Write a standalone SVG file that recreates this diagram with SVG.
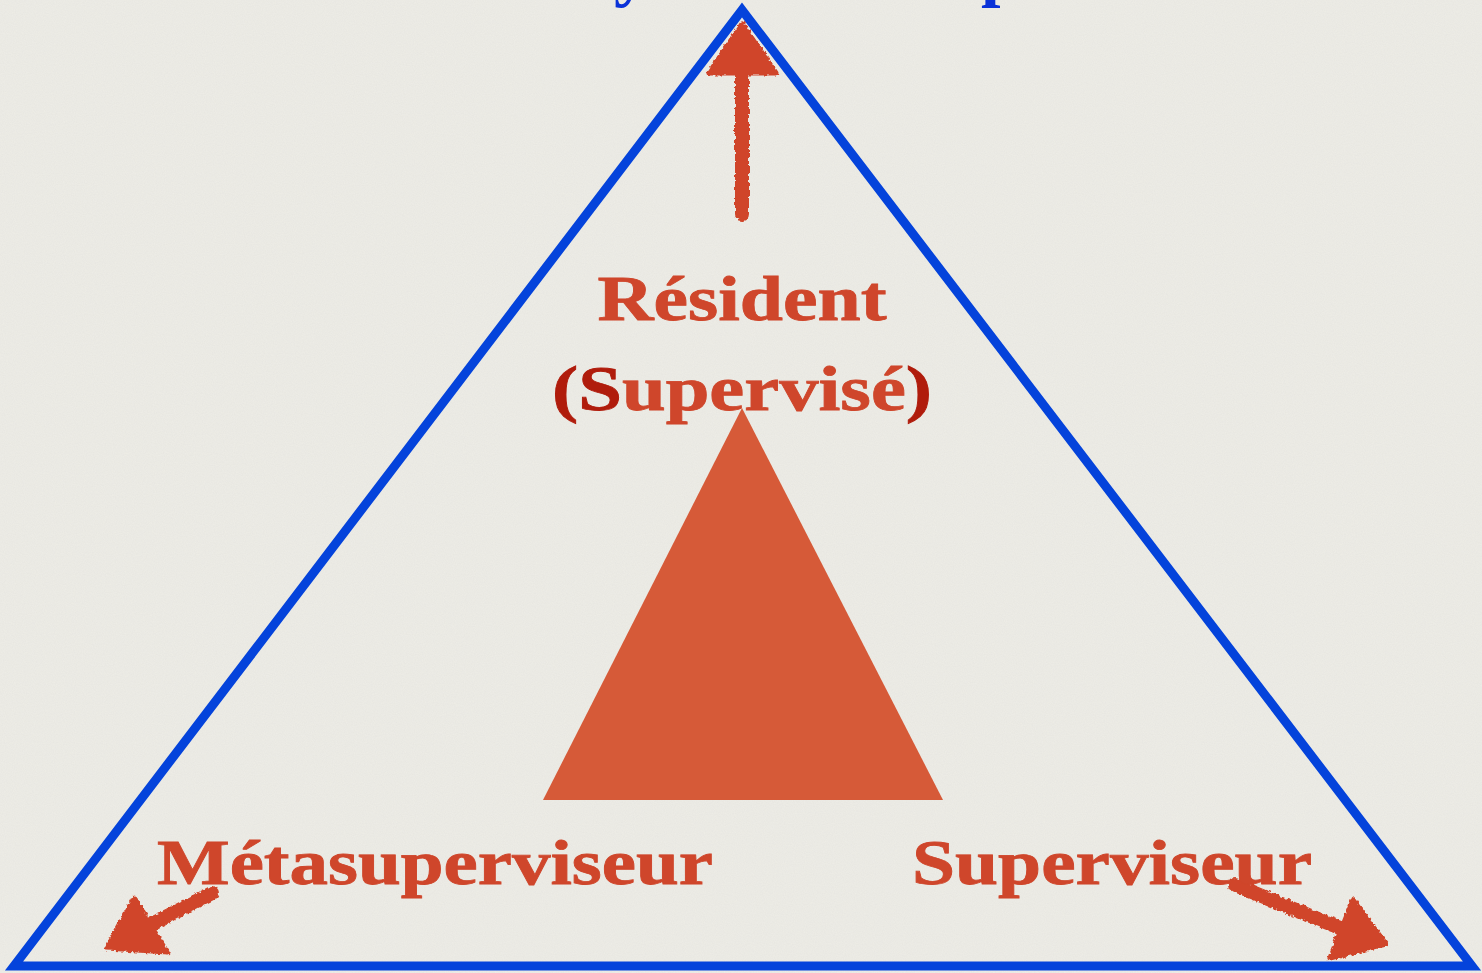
<svg xmlns="http://www.w3.org/2000/svg" width="1482" height="973" viewBox="0 0 1482 973">
<defs>
<filter id="paper" x="0" y="0" width="100%" height="100%">
<feTurbulence type="fractalNoise" baseFrequency="0.9" numOctaves="2" seed="3" result="n"/>
<feColorMatrix in="n" type="matrix" values="0 0 0 0 0.5  0 0 0 0 0.5  0 0 0 0 0.48  0 0 0 0.14 0" result="c"/>
<feComposite in="c" in2="SourceGraphic" operator="in"/>
</filter>
<filter id="rough" x="-20%" y="-20%" width="140%" height="140%">
<feTurbulence type="fractalNoise" baseFrequency="0.25" numOctaves="2" seed="7" result="t"/>
<feDisplacementMap in="SourceGraphic" in2="t" scale="5" xChannelSelector="R" yChannelSelector="G"/>
</filter>
<style>
.lbl{font-family:"Liberation Serif","DejaVu Serif",serif;font-weight:bold;fill:#cf462b;stroke:#cf462b;stroke-width:0.8;}
.dark{fill:#b01c0c;stroke:#b01c0c;}
.arrow{fill:#d0452a;stroke:#d0452a;stroke-linejoin:round;stroke-linecap:round;}
.shaft{fill:none;stroke:#d0452a;stroke-width:14;stroke-linecap:round;}
</style>
</defs>
<rect width="1482" height="973" fill="#eeede7"/>
<rect width="1482" height="973" fill="#ffffff" filter="url(#paper)"/>
<g id="title" font-family="Liberation Serif, serif" font-weight="bold" font-size="70" fill="#0a32d8">
<text x="614" y="-7">y</text>
<text x="981" y="-7">p</text>
</g>
<g id="outer-triangle">
<polygon points="742,10 14,966 1472,966" fill="none" stroke="#0443db" stroke-width="9" stroke-linejoin="miter"/>
</g>
<g id="inner-triangle">
<polygon points="742,408 543,800 943,800" fill="#d65a38"/>
</g>
<g id="connectors" filter="url(#rough)">
<g id="arrow-top">
<line class="shaft" x1="742" y1="214" x2="742" y2="70"/>
<polygon class="arrow" stroke-width="5" points="742,24 709,73 776,73"/>
</g>
<g id="arrow-left">
<line class="shaft" x1="212" y1="893" x2="148" y2="926"/>
<polygon class="arrow" stroke-width="5" points="107,948 134,898 167,952"/>
</g>
<g id="arrow-right">
<line class="shaft" x1="1235" y1="885" x2="1340" y2="928"/>
<polygon class="arrow" stroke-width="5" points="1386,944 1353,900 1330,958"/>
</g>
</g>
<g id="node-resident">
<text class="lbl" x="742" y="320" font-size="64" text-anchor="middle" textLength="289" lengthAdjust="spacingAndGlyphs">Résident</text>
<text class="lbl" x="742" y="410" font-size="64" text-anchor="middle" textLength="380" lengthAdjust="spacingAndGlyphs"><tspan class="dark">(S</tspan>upervisé<tspan class="dark">)</tspan></text>
</g>
<g id="node-metasuperviseur">
<text class="lbl" x="157" y="884" font-size="64" textLength="556" lengthAdjust="spacingAndGlyphs">Métasuperviseur</text>
</g>
<g id="node-superviseur">
<text class="lbl" x="912" y="884" font-size="64" textLength="400" lengthAdjust="spacingAndGlyphs">Superviseur</text>
</g>
</svg>
